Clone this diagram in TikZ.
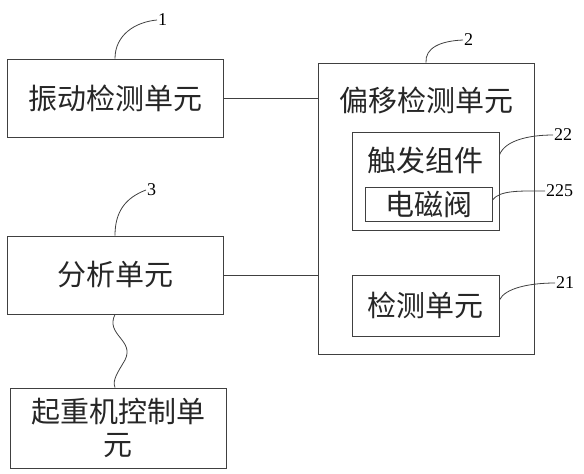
\documentclass[tikz,border=0pt]{standalone}
\usepackage{fontspec}
\newfontfamily\cjk{Noto Sans CJK SC}
\setmainfont{Liberation Serif}

\begin{document}
\begin{tikzpicture}[x=1pt, y=-1pt,
    unit/.style={draw=black!75, line width=0.9pt, inner sep=0pt},
    big/.style={font=\cjk\fontsize{29}{33}\selectfont, text=black!85},
    lead/.style={black!75, line width=0.8pt},
    num/.style={font=\fontsize{18}{18}\selectfont, inner sep=1pt}]

    \useasboundingbox (0,0) rectangle (584,474);

    %% Left column
    % Vibration detection
    \node[unit, big, minimum width=216, minimum height=78] (vib) at (115,98) {振动检测单元};
    % Analysis
    \node[unit, big, minimum width=216, minimum height=78] (ana) at (115,275) {分析单元};
    % Crane control
    \node[unit, big, minimum width=216, minimum height=80, align=center] (crane) at (118,428) {起重机控制单\\元};

    %% Offset detection unit
    \node[unit, minimum width=216, minimum height=291] (shift) at (426,208.5) {};
    \node[big] (shifttxt) at (426,100) {偏移检测单元};

    % Trigger assembly
    \node[unit, minimum width=147, minimum height=98] (trig) at (425.5,181) {};
    \node[big] (trigtxt) at (425,160) {触发组件};
    \node[unit, big, minimum width=127, minimum height=34] (valve) at (428.5,204) {电磁阀};

    % Detection unit
    \node[unit, big, minimum width=147, minimum height=61] (det) at (425.5,305.5) {检测单元};

    %% Links
    \draw[unit] (vib.east) -- (vib.east -| shift.west);
    \draw[unit] (ana.east) -- (ana.east -| shift.west);
    \draw[lead] (ana.south) .. controls (105,335) and (135,340) .. (125,360)
        .. controls (118,372) and (112,380) .. (crane.north -| ana.south);

    %% Reference numbers
    \node[num, anchor=west] (n1) at (157,20) {1};
    \node[num, anchor=west] (n3) at (146,190) {3};
    \node[num, anchor=west] (n2) at (463,40) {2};
    \node[num, anchor=west] (n22) at (553,135) {22};
    \node[num, anchor=west] (n225) at (545,191) {225};
    \node[num, anchor=west] (n21) at (555,283) {21};

    \draw[lead] (vib.north) .. controls (115,35) and (135,22) .. (n1.west);
    \draw[lead] (ana.north) .. controls (115,212) and (125,198) .. (n3.west);
    \draw[lead] (shift.north) .. controls (425,48) and (440,41) .. (n2.west);
    \draw[lead] (trig.east |- 0,155) .. controls (505,140) and (530,135) .. (n22.west);
    \draw[lead] (valve.east |- 0,200) .. controls (500,190) and (520,191) .. (n225.west);
    \draw[lead] (det.east |- 0,300) .. controls (505,288) and (530,283) .. (n21.west);

\end{tikzpicture}
\end{document}
